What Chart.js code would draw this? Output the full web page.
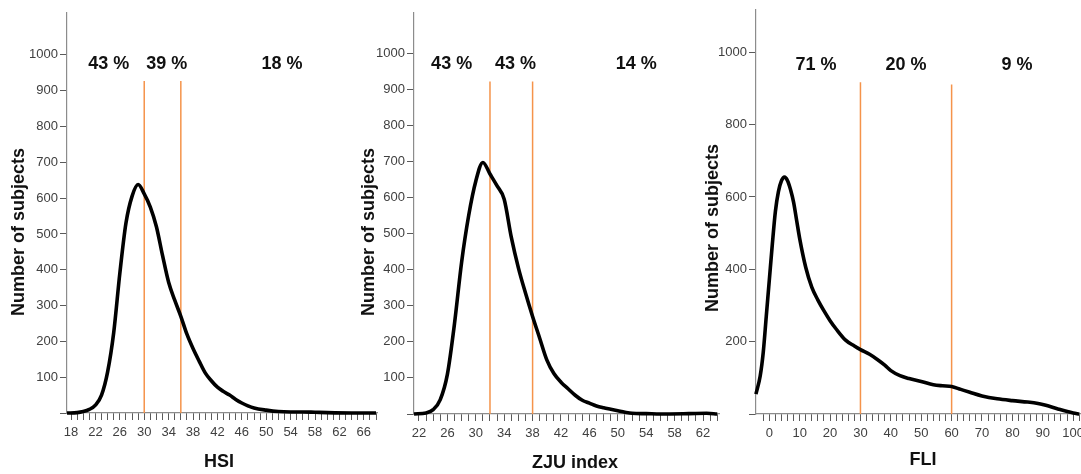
<!DOCTYPE html>
<html>
<head>
<meta charset="utf-8">
<script src="https://cdn.jsdelivr.net/npm/chart.js@4/dist/chart.umd.min.js"></script>
<style>
  html, body { margin: 0; padding: 0; background: #fff; overflow: hidden; width: 1081px; height: 474px; }
  canvas { position: absolute; top: 0; }
</style>
</head>
<body>
<canvas id="hsi" width="385" height="474" style="left:0px"></canvas>
<canvas id="zju" width="375" height="474" style="left:350px"></canvas>
<canvas id="fli" width="420" height="474" style="left:700px"></canvas>
<script>
// ---- HSI distribution ----
const hsiX = [17.34, 19, 20, 21, 22, 23, 24, 25, 26, 27, 28, 29, 30, 31, 32, 33, 34, 35, 36, 37, 38, 39, 40, 41, 42, 43, 44, 45, 46, 47, 48, 50, 52, 54, 56, 58, 60, 64, 68];
const hsiY = [0, 1, 4, 10, 22, 50, 115, 225, 390, 530, 605, 638, 612, 575, 520, 440, 365, 315, 270, 220, 180, 145, 112, 90, 72, 60, 50, 38, 28, 20, 14, 8, 4, 3, 3, 2, 1, 0, 0];
const hsiCuts = [30, 36];
const hsiCutTops = [927, 927];
const hsiShares = ['43 %', '39 %', '18 %'];
const hsiShareX = [24.2, 33.7, 52.6];

// ---- ZJU index distribution ----
const zjuX = [21.3, 23, 24, 25, 26, 27, 28, 29, 30, 31, 32, 33, 34, 35, 36, 37, 38, 39, 40, 41, 42, 43, 44, 45, 46, 47, 48, 49, 50, 51, 52, 54, 56, 60, 62.5, 64];
const zjuY = [0, 3, 12, 40, 110, 250, 420, 550, 645, 697, 665, 632, 595, 490, 405, 335, 270, 210, 150, 112, 88, 70, 52, 38, 30, 22, 17, 13, 9, 5, 2, 1, 0, 1, 2, 0];
const zjuCuts = [32, 38];
const zjuCutTops = [921, 921];
const zjuShares = ['43 %', '43 %', '14 %'];
const zjuShareX = [26.6, 35.6, 52.6];

// ---- FLI distribution ----
const fliX = [-4.4, -3, -2, -1, 0, 1, 2, 3, 4, 5, 6, 7, 8, 9, 10, 12, 14, 16, 18, 20, 22, 25, 28, 30, 33, 36, 38, 40, 43, 46, 50, 54, 57, 60, 63, 66, 70, 75, 80, 85, 88, 91, 95, 100, 102];
const fliY = [55, 105, 170, 270, 370, 470, 560, 615, 645, 655, 645, 620, 585, 535, 485, 405, 350, 315, 285, 258, 235, 205, 188, 178, 165, 148, 135, 120, 106, 98, 90, 81, 78, 76, 68, 60, 50, 42, 37, 33, 30, 24, 14, 3, 0];
const fliCuts = [30, 60];
const fliCutTops = [917, 911];
const fliShares = ['71 %', '20 %', '9 %'];
const fliShareX = [15.4, 45, 81.5];

// tick values
const hsiTicks = [];  for (let v = 18; v <= 68; v++) hsiTicks.push(v);
const zjuTicks = [];  for (let v = 22; v <= 64; v++) zjuTicks.push(v);
const fliTicks = [];  for (let v = -2; v <= 102; v += 2) fliTicks.push(v);
const yTicks100 = [100, 200, 300, 400, 500, 600, 700, 800, 900, 1000];
const yTicks200 = [200, 400, 600, 800, 1000];

const FONT = '"Liberation Sans", Arial, sans-serif';
const AXIS = '#8c8c8c';
const TICK = '#5a5a5a';
const ORANGE = '#f5934a';

// draws the share labels above each band and the axis titles
const annotate = {
  id: 'annotate',
  afterDatasetsDraw(chart, args, o) {
    const { ctx, scales: { x, y } } = chart;
    ctx.save();
    ctx.fillStyle = '#111';
    ctx.font = 'bold 18px ' + FONT;
    ctx.textAlign = 'center';
    ctx.textBaseline = 'middle';
    o.shares.forEach((t, i) => ctx.fillText(t, x.getPixelForValue(o.shareX[i]), y.getPixelForValue(o.shareY)));
    ctx.fillText(o.xTitle, o.xTitleAt[0], o.xTitleAt[1]);
    ctx.translate(o.yTitleAt[0], o.yTitleAt[1]);
    ctx.rotate(-Math.PI / 2);
    ctx.fillText('Number of subjects', 0, 0);
    ctx.restore();
  }
};

function panel(id, c) {
  const datasets = [{
    data: c.xs.map((x, i) => ({ x, y: c.ys[i] })),
    borderColor: '#000', borderWidth: 3.6, pointRadius: 0,
    cubicInterpolationMode: 'monotone', fill: false, clip: false, order: 0
  }];
  c.cuts.forEach((v, i) => datasets.push({
    data: [{ x: v, y: 0 }, { x: v, y: c.cutTops[i] }],
    borderColor: ORANGE, borderWidth: 1.5, pointRadius: 0, fill: false, order: 1
  }));
  return new Chart(document.getElementById(id), {
    type: 'line',
    data: { datasets },
    plugins: [annotate],
    options: {
      responsive: false, animation: false, events: [],
      layout: { padding: { left: 0, right: c.padRight, top: c.padTop, bottom: 0 } },
      plugins: {
        legend: { display: false }, tooltip: { enabled: false },
        annotate: { shares: c.shares, shareX: c.shareX, shareY: c.shareY, xTitle: c.xTitle, xTitleAt: c.xTitleAt, yTitleAt: c.yTitleAt }
      },
      scales: {
        x: {
          type: 'linear', min: c.xMin, max: c.xMax,
          afterBuildTicks: s => { s.ticks = c.xTicks.map(v => ({ value: v })); },
          afterFit: s => { s.height = 474 - c.bottom; s.paddingLeft = 0; s.paddingRight = 0; },
          ticks: {
            autoSkip: false, maxRotation: 0, padding: 5, color: '#404040',
            font: { family: FONT, size: 13 },
            callback: v => (((v - c.xLabelFrom) % c.xLabelStep) === 0 ? String(v) : '')
          },
          grid: { drawOnChartArea: false, tickLength: 7, tickWidth: 1, color: AXIS, tickColor: TICK },
          border: { color: AXIS, width: 1.2 }
        },
        y: {
          type: 'linear', min: 0, max: c.yMax,
          afterBuildTicks: s => { s.ticks = [0].concat(c.yTicks).map(v => ({ value: v })); },
          afterFit: s => { s.width = c.yWidth; s.paddingTop = 0; s.paddingBottom = 0; },
          ticks: {
            padding: 2, color: '#404040', font: { family: FONT, size: 13 },
            callback: v => (v === 0 ? '' : String(v))
          },
          grid: { drawOnChartArea: false, tickLength: 7, tickWidth: 1, color: AXIS, tickColor: TICK },
          border: { color: AXIS, width: 1.2 }
        }
      }
    }
  });
}

panel('hsi', {
  xs: hsiX, ys: hsiY, cuts: hsiCuts, cutTops: hsiCutTops,
  shares: hsiShares, shareX: hsiShareX, shareY: 975,
  xMin: 17.34, xMax: 68.16, xTicks: hsiTicks, xLabelFrom: 18, xLabelStep: 4,
  yMax: 1117, yTicks: yTicks100,
  yWidth: 67, padRight: 8, padTop: 13, bottom: 413,
  xTitle: 'HSI', xTitleAt: [219, 462], yTitleAt: [19, 232]
});

panel('zju', {
  xs: zjuX, ys: zjuY, cuts: zjuCuts, cutTops: zjuCutTops,
  shares: zjuShares, shareX: zjuShareX, shareY: 970,
  xMin: 21.3, xMax: 64.25, xTicks: zjuTicks, xLabelFrom: 22, xLabelStep: 4,
  yMax: 1111, yTicks: yTicks100,
  yWidth: 64, padRight: 6, padTop: 13, bottom: 414,
  xTitle: 'ZJU index', xTitleAt: [225, 463], yTitleAt: [19, 232]
});

panel('fli', {
  xs: fliX, ys: fliY, cuts: fliCuts, cutTops: fliCutTops,
  shares: fliShares, shareX: fliShareX, shareY: 966,
  xMin: -4.38, xMax: 103.9, xTicks: fliTicks, xLabelFrom: 0, xLabelStep: 10,
  yMax: 1117, yTicks: yTicks200,
  yWidth: 56, padRight: 35, padTop: 10, bottom: 414,
  xTitle: 'FLI', xTitleAt: [223, 460], yTitleAt: [13, 228]
});
</script>
</body>
</html>
